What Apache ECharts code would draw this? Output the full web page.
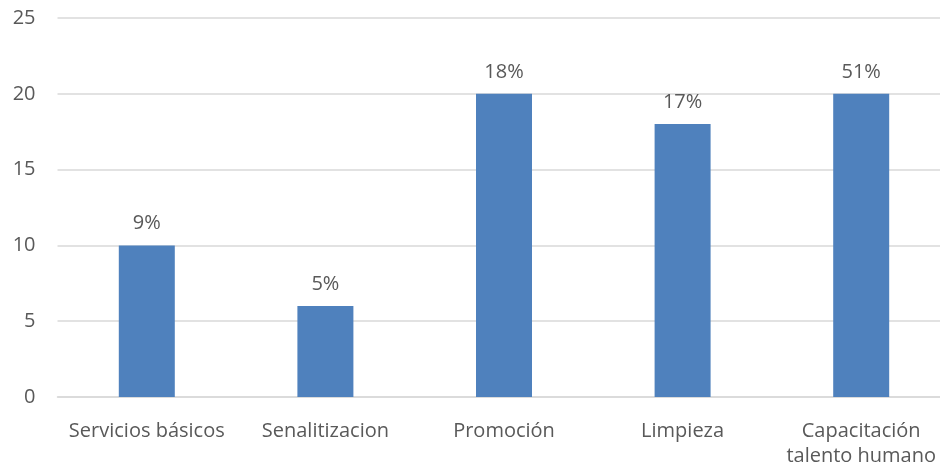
<!DOCTYPE html>
<html>
<head>
<meta charset="utf-8">
<script src="https://cdn.jsdelivr.net/npm/echarts@6/dist/echarts.min.js"></script>
<style>
  html, body { margin: 0; padding: 0; background: #fff; }
  #chart { width: 940px; height: 470px; }
</style>
</head>
<body>
<div id="chart"></div>
<script>
// categorias y valores
var categories = ['Servicios básicos', 'Senalitizacion', 'Promoción', 'Limpieza', 'Capacitación\ntalento humano']
var values = [10, 6, 20, 18, 20]
var percentLabels = ['9%', '5%', '18%', '17%', '51%']
var yTicks = { min: 0, max: 25, interval: 5 }

var textColor = '#595959'
var fontFamily = '"Open Sans", "Liberation Sans", sans-serif'

var myChart = echarts.init(document.getElementById('chart'))
myChart.setOption({
  animation: false,
  grid: {
    left: 57.5,
    top: 18,
    bottom: 73,
    width: 893,
    containLabel: false,
    outerBoundsMode: 'none'
  },
  xAxis: {
    type: 'category',
    data: categories,
    axisLine: { show: true, lineStyle: { color: '#d9d9d9', width: 1.5 } },
    axisTick: { show: false },
    axisLabel: {
      color: textColor,
      fontFamily: fontFamily,
      fontSize: 20,
      lineHeight: 25,
      margin: 22,
      interval: 0
    }
  },
  yAxis: {
    type: 'value',
    min: yTicks.min,
    max: yTicks.max,
    interval: yTicks.interval,
    axisLine: { show: false },
    axisTick: { show: false },
    splitLine: { lineStyle: { color: '#d9d9d9', width: 1.5 } },
    axisLabel: {
      color: textColor,
      fontFamily: fontFamily,
      fontSize: 20,
      margin: 22
    }
  },
  series: [
    {
      type: 'bar',
      data: values,
      barWidth: 56,
      itemStyle: { color: '#4f81bd' },
      label: {
        show: true,
        position: 'top',
        distance: 12,
        color: textColor,
        fontFamily: fontFamily,
        fontSize: 20,
        formatter: function (p) {
          return percentLabels[p.dataIndex]
        }
      }
    }
  ]
})
</script>
</body>
</html>
